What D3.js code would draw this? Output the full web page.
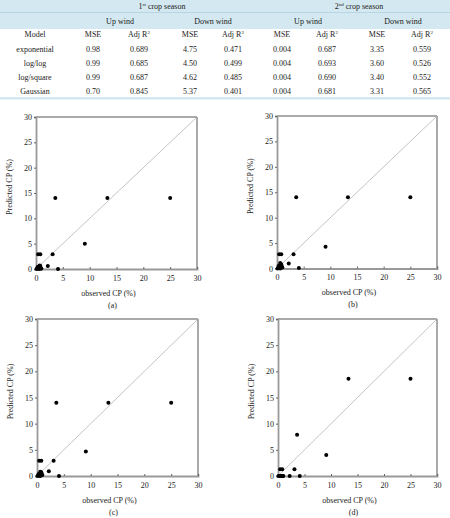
<!DOCTYPE html>
<html><head><meta charset="utf-8">
<script src="https://cdn.jsdelivr.net/npm/d3@7"></script>
<style>
body{margin:0;background:#fff;}
text{font-family:"Liberation Serif","Times New Roman",serif;fill:#222;}
</style></head>
<body><svg id="c" width="450" height="518"></svg>
<script>
// ---- table data ----
const models = ["exponential","log/log","log/square","Gaussian"];
const up1MSE = ["0.98","0.99","0.99","0.70"];
const up1R2 = ["0.689","0.685","0.687","0.845"];
const down1MSE = ["4.75","4.50","4.62","5.37"];
const down1R2 = ["0.471","0.499","0.485","0.401"];
const up2MSE = ["0.004","0.004","0.004","0.004"];
const up2R2 = ["0.687","0.693","0.690","0.681"];
const down2MSE = ["3.35","3.60","3.40","3.31"];
const down2R2 = ["0.559","0.526","0.552","0.565"];

// ---- scatter data ----
const observed = [3.6, 13.3, 25.0, 9.1, 3.1, 0.4, 0.8, 2.2, 4.1, 0.1, 0.3, 0.5, 0.6, 0.7, 0.9, 0.4, 0.6, 0.3, 0.8, 1.0];
const predA = [14.0, 14.0, 14.0, 5.0, 2.9, 2.9, 2.9, 0.6, 0.0, 0.0, 0.2, 0.5, 0.3, 0.7, 0.1, 0.1, 0.0, 0.4, 0.6, 0.1];
const predB = [14.0, 14.0, 14.0, 4.3, 2.8, 2.8, 2.8, 1.0, 0.1, 0.0, 0.3, 0.6, 1.1, 0.9, 0.4, 0.2, 0.0, 0.5, 0.8, 0.2];
const predC = [14.0, 14.0, 14.0, 4.7, 2.9, 2.9, 2.9, 0.9, 0.0, 0.0, 0.2, 0.5, 0.8, 0.6, 0.3, 0.1, 0.0, 0.4, 0.7, 0.2];
const predD = [7.9, 18.6, 18.6, 4.0, 1.3, 1.3, 1.3, 0.0, 0.0, 0.0, 0.0, 0.0, 0.0, 0.0, 0.0, 0.0, 0.0, 0.0, 0.0, 0.0];
const axisTicks = [0, 5, 10, 15, 20, 25, 30];
const captions = ["(a)","(b)","(c)","(d)"];

const svg = d3.select("#c");
const FS = 8;

// ---- table ----
svg.append("rect").attr("x",0).attr("y",0).attr("width",450).attr("height",29).attr("fill","#d3e8f0");
svg.append("line").attr("x1",0).attr("x2",450).attr("y1",12.5).attr("y2",12.5).attr("stroke","#b7d6e2").attr("stroke-width",1);
svg.append("rect").attr("x",0).attr("y",97).attr("width",450).attr("height",2.5).attr("fill","#d3e8f0");

function sup(sel, base, s){
  sel.text(base);
  sel.append("tspan").attr("font-size",5).attr("dy",-3).text(s);
}
const seasons = [{x:162, n:"1", s:"st"},{x:359, n:"2", s:"nd"}];
seasons.forEach(d=>{
  const t = svg.append("text").attr("x",d.x).attr("y",9).attr("text-anchor","middle").attr("font-size",FS);
  t.text(d.n);
  t.append("tspan").attr("font-size",5).attr("dy",-3).text(d.s);
  t.append("tspan").attr("dy",3).text(" crop season");
});
const winds = [{x:120,t:"Up wind"},{x:213,t:"Down wind"},{x:308,t:"Up wind"},{x:403,t:"Down wind"}];
winds.forEach(d=>svg.append("text").attr("x",d.x).attr("y",23.5).attr("text-anchor","middle").attr("font-size",FS).text(d.t));

const colX = [35, 93, 139, 190, 233, 282, 327, 377, 422];
const headRow = ["Model","MSE","R","MSE","R","MSE","R","MSE","R"];
headRow.forEach((h,i)=>{
  const t = svg.append("text").attr("x",colX[i]).attr("y",37).attr("text-anchor","middle").attr("font-size",FS);
  if(h==="R"){ t.text("Adj R"); t.append("tspan").attr("font-size",5).attr("dy",-3).text("2"); }
  else t.text(h);
});
const cols = [models, up1MSE, up1R2, down1MSE, down1R2, up2MSE, up2R2, down2MSE, down2R2];
const rowY = [52, 66, 80, 93.5];
cols.forEach((col,i)=>{
  col.forEach((v,j)=>{
    svg.append("text").attr("x",colX[i]).attr("y",rowY[j]).attr("text-anchor","middle").attr("font-size",FS).text(v);
  });
});

// ---- panels ----
const panels = [
  {x0:36, x1:197, y0:117, y1:269, pred:predA},
  {x0:277, x1:437, y0:116, y1:268.5, pred:predB},
  {x0:37, x1:198, y0:319, y1:476, pred:predC},
  {x0:278, x1:437, y0:319, y1:476, pred:predD}
];
panels.forEach((p,k)=>{
  const x = d3.scaleLinear().domain([0,30]).range([p.x0,p.x1]);
  const y = d3.scaleLinear().domain([0,30]).range([p.y1,p.y0]);
  const g = svg.append("g");
  // frame top/right
  g.append("line").attr("x1",x(0)).attr("x2",x(30)).attr("y1",y(30)).attr("y2",y(30)).attr("stroke","#555").attr("stroke-width",1);
  g.append("line").attr("x1",x(30)).attr("x2",x(30)).attr("y1",y(30)).attr("y2",y(0)).attr("stroke","#555").attr("stroke-width",1);
  // diagonal
  g.append("line").attr("x1",x(0)).attr("y1",y(0)).attr("x2",x(30)).attr("y2",y(30)).attr("stroke","#b5b5b5").attr("stroke-width",0.8);
  // axes
  const ax = g.append("g").attr("transform",`translate(0,${p.y1})`).call(d3.axisBottom(x).tickValues(axisTicks).tickSize(-2).tickPadding(6));
  const ay = g.append("g").attr("transform",`translate(${p.x0},0)`).call(d3.axisLeft(y).tickValues(axisTicks).tickSize(2).tickPadding(2));
  [ax,ay].forEach(a=>{
    a.select(".domain").attr("stroke","#999").attr("stroke-width",1.8);
    a.selectAll(".tick line").attr("stroke","#666");
    a.selectAll("text").attr("font-size",FS).attr("fill","#222").attr("font-family","Liberation Serif, serif");
  });
  // points
  g.selectAll("circle").data(observed.map((o,i)=>[o,p.pred[i]])).join("circle")
    .attr("cx",d=>x(d[0])).attr("cy",d=>y(d[1])).attr("r",2).attr("fill","#000");
  // labels
  const cx = (p.x0+p.x1)/2;
  const cy = (p.y0+p.y1)/2;
  g.append("text").attr("transform",`translate(${p.x0-24},${cy-6}) rotate(-90)`).attr("text-anchor","middle").attr("font-size",FS).text("Predicted CP (%)");
  g.append("text").attr("x",cx-8).attr("y",p.y1+26.5).attr("text-anchor","middle").attr("font-size",FS).text("observed CP (%)");
  g.append("text").attr("x",cx-4).attr("y",p.y1+38.5).attr("text-anchor","middle").attr("font-size",FS).text(captions[k]);
});
</script></body></html>
